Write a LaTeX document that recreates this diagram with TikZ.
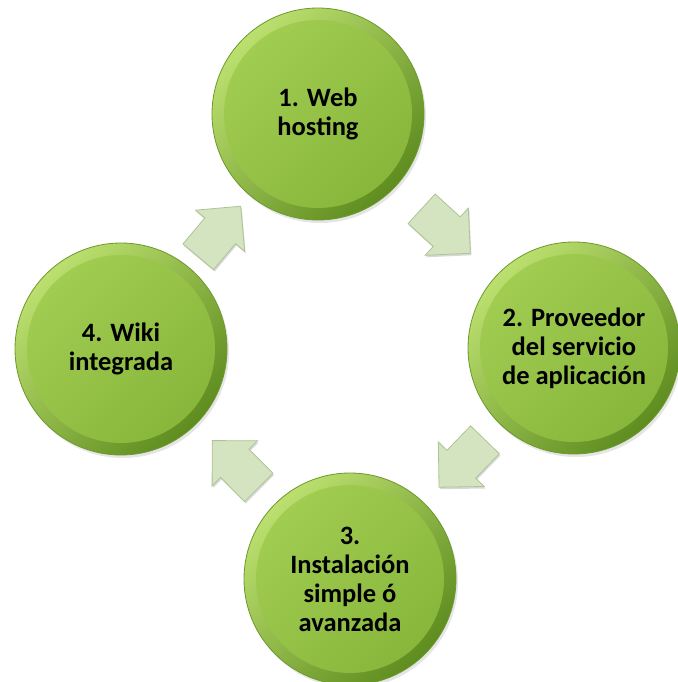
\documentclass[tikz,border=0pt]{standalone}
\usepackage{fontspec}
\setmainfont{Carlito}
\usetikzlibrary{shadows,calc}
\definecolor{rimlight}{HTML}{BCE070}
\definecolor{rimdark}{HTML}{5E8C1E}
\definecolor{rimline}{HTML}{6C9A2C}
\definecolor{innerlight}{HTML}{A2CE52}
\definecolor{innerdark}{HTML}{86B53A}
\definecolor{arrowfill}{HTML}{D4E4C1}
\definecolor{arrowedge}{HTML}{AFC494}
\newcommand\blockarr[2]{%
  \path let \p1=($(#2)-(#1)$), \n1={atan2(\y1,\x1)} in \pgfextra{\xdef\arrang{\n1}};
  \draw[arrowsty, shift={($(#1)!0.5!(#2)$)}, rotate=\arrang]
    (-33,-20) -- (1,-20) -- (1,-32) -- (33,0) -- (1,32) -- (1,20) -- (-33,20) -- cycle;}
\begin{document}
\begin{tikzpicture}[x=1pt,y=-1pt,
  ball/.style={circle, minimum size=212pt, inner sep=0pt, draw=rimline, line width=0.8pt,
    top color=rimlight, bottom color=rimdark, shading angle=45,
    drop shadow={opacity=0.2, shadow xshift=2pt, shadow yshift=-3pt},
    path picture={\shade[top color=innerlight, bottom color=innerdark, shading angle=45]
      (path picture bounding box.center) circle (94pt);},
    font=\bfseries\fontsize{26.5}{29}\selectfont, align=center, text=black},
  arrowsty/.style={draw=arrowedge, fill=arrowfill, line width=0.8pt, line join=miter,
    drop shadow={opacity=0.3, shadow xshift=1pt, shadow yshift=-2pt}}]
\useasboundingbox (0,0) rectangle (677,682);
\fill[white] (0,0) rectangle (677,682);
\node[ball] (c1) at (318,114) {1. Web\\hosting};
\node[ball] (c2) at (574,348) {2. Proveedor\\del servicio\\de aplicación};
\node[ball] (c3) at (350,579) {3.\\Instalación\\simple ó\\avanzada};
\node[ball] (c4) at (121,349) {4. Wiki\\integrada};
\blockarr{c1}{c2}
\blockarr{c2}{c3}
\blockarr{c3}{c4}
\blockarr{c4}{c1}
\end{tikzpicture}
\end{document}
